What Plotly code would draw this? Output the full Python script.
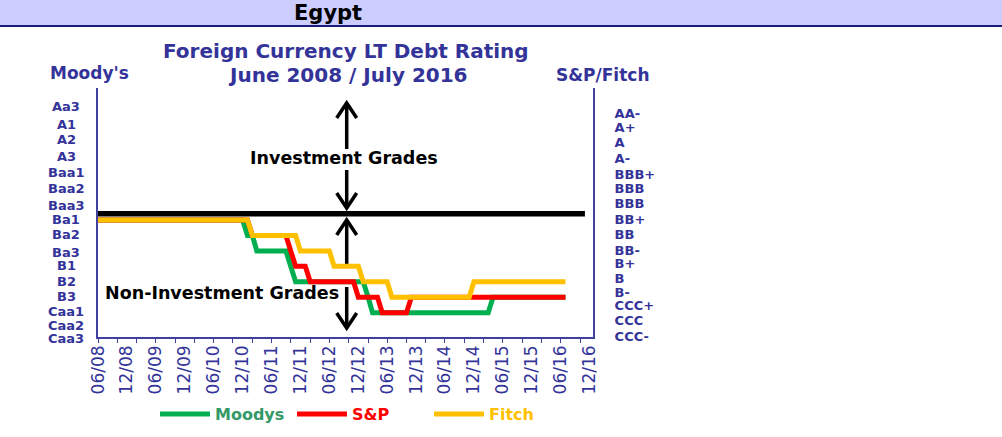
import pandas as pd
import plotly.graph_objects as go

# ---------------- data ----------------
country = "Egypt"
chart_title = "Foreign Currency LT Debt Rating"
chart_subtitle = "June 2008 / July 2016"
left_axis_title = "Moody's"
right_axis_title = "S&P/Fitch"
upper_zone_label = "Investment Grades"
lower_zone_label = "Non-Investment Grades"

# notch scales (lowest first); level = position + 1
moodys_scale = ["Caa3", "Caa2", "Caa1", "B3", "B2", "B1", "Ba3", "Ba2", "Ba1",
                "Baa3", "Baa2", "Baa1", "A3", "A2", "A1", "Aa3"]
sp_scale = ["CCC-", "CCC", "CCC+", "B-", "B", "B+", "BB-", "BB", "BB+",
            "BBB-", "BBB", "BBB+", "A-", "A", "A+", "AA-"]

# rating changes (month of change, new rating)
moodys_change_months = ["2008-06", "2011-01", "2011-03", "2011-10", "2011-11",
                        "2013-02", "2013-03", "2015-04"]
moodys_change_ratings = ["Ba1", "Ba2", "Ba3", "B1", "B2", "B3", "Caa1", "B3"]

sp_change_months = ["2008-06", "2011-02", "2011-10", "2011-11", "2012-02",
                    "2012-12", "2013-05", "2013-11"]
sp_change_ratings = ["BB+", "BB", "BB-", "B+", "B", "B-", "CCC+", "B-"]

fitch_change_months = ["2008-06", "2011-02", "2011-12", "2012-07", "2013-01",
                       "2013-07", "2014-12"]
fitch_change_ratings = ["BB+", "BB", "BB-", "B+", "B", "B-", "B"]

last_month = "2016-07"

# investment-grade boundary line
threshold_level = 9.4
threshold_dates = ["2008-06-01", "2016-11-01"]

# axis tick labels
left_labels = ["Aa3", "A1", "A2", "A3", "Baa1", "Baa2", "Baa3", "Ba1", "Ba2",
               "Ba3", "B1", "B2", "B3", "Caa1", "Caa2", "Caa3"]
left_label_levels = [16.33, 15.21, 14.18, 13.14, 12.09, 11.05, 9.97, 9.06, 8.03,
                     6.91, 6.04, 5.05, 4.04, 3.06, 2.20, 1.34]
right_labels = ["AA-", "A+", "A", "A-", "BBB+", "BBB", "BBB", "BB+", "BB",
                "BB-", "B+", "B", "B-", "CCC+", "CCC", "CCC-"]
right_label_levels = [15.91, 14.97, 14.00, 12.99, 11.96, 11.05, 10.08, 9.06, 8.07,
                      7.06, 6.20, 5.23, 4.32, 3.45, 2.48, 1.46]
x_labels = ["06/08", "12/08", "06/09", "12/09", "06/10", "12/10", "06/11", "12/11",
            "06/12", "12/12", "06/13", "12/13", "06/14", "12/14", "06/15", "12/15",
            "06/16", "12/16"]

series_names = ["Moodys", "S&P", "Fitch"]
series_colors = ["#00B050", "#FF0000", "#FFC000"]
legend_text_colors = ["#339966", "#FF0000", "#FFC000"]

# ---------------- build monthly series ----------------
months = pd.date_range(moodys_change_months[0] + "-01", last_month + "-01", freq="MS")


def monthly_levels(change_months, change_ratings, scale):
    s = pd.Series(index=pd.to_datetime([m + "-01" for m in change_months]),
                  data=[scale.index(r) + 1 for r in change_ratings], dtype=float)
    return s.reindex(months, method="ffill")


moodys_series = monthly_levels(moodys_change_months, moodys_change_ratings, moodys_scale)
sp_series = monthly_levels(sp_change_months, sp_change_ratings, sp_scale)
fitch_series = monthly_levels(fitch_change_months, fitch_change_ratings, sp_scale)
all_series = [moodys_series, sp_series, fitch_series]

x_tick_dates = [pd.to_datetime(l, format="%m/%y") for l in x_labels]
minor_tick_dates = pd.date_range("2008-06-01", "2016-12-01", freq="4MS")

# ---------------- layout geometry (pixels) ----------------
W, H = 1002, 437
PL, PR, PT, PB = 98, 593, 88, 337
FONT = "DejaVu Sans"
BLUE = "#333399"
AXIS_BLUE = "#4040A0"
y_range = [1.427, 17.544]
x_range = ["2008-06-01", "2016-12-22"]


def fx(px):
    return (px - PL) / (PR - PL)


def fy(py):
    return (PB - py) / (PB - PT)


def level_to_paper(lev):
    return (lev - y_range[0]) / (y_range[1] - y_range[0])


fig = go.Figure()

for name, s, col, tcol in zip(series_names, all_series, series_colors, legend_text_colors):
    fig.add_trace(go.Scatter(
        x=s.index, y=s.values, mode="lines",
        name=f"<span style='color:{tcol}'><b>{name}</b></span>",
        line=dict(color=col, width=5),
        hoverinfo="skip",
    ))

fig.add_trace(go.Scatter(
    x=pd.to_datetime(threshold_dates), y=[threshold_level] * len(threshold_dates),
    mode="lines", line=dict(color="black", width=5.5), showlegend=False,
    xaxis="x2", yaxis="y2", hoverinfo="skip",
))

shapes = []
# header band
shapes.append(dict(type="rect", xref="paper", yref="paper", x0=fx(0), x1=fx(W),
                   y0=fy(0), y1=fy(25.5), fillcolor="#CCCCFF", line=dict(width=0), layer="below"))
shapes.append(dict(type="line", xref="paper", yref="paper", x0=fx(0), x1=fx(W),
                   y0=fy(26), y1=fy(26), line=dict(color="#1A1A7A", width=2)))


def arrow(xc, ytop, ybot, hw=10, hh=15):
    p = []
    p.append(f"M{fx(xc)},{fy(ytop)} L{fx(xc)},{fy(ybot)}")
    p.append(f"M{fx(xc-hw)},{fy(ytop+hh)} L{fx(xc)},{fy(ytop)} L{fx(xc+hw)},{fy(ytop+hh)}")
    p.append(f"M{fx(xc-hw)},{fy(ybot-hh)} L{fx(xc)},{fy(ybot)} L{fx(xc+hw)},{fy(ybot-hh)}")
    return [dict(type="path", xref="paper", yref="paper", path=q,
                 line=dict(color="black", width=3.5), layer="below") for q in p]


shapes += arrow(346.7, 103, 208)
shapes += arrow(346.7, 220, 328)
# white text boxes (behind lines)
shapes.append(dict(type="rect", xref="paper", yref="paper", x0=fx(245), x1=fx(442),
                   y0=fy(170), y1=fy(149), fillcolor="white", line=dict(width=0), layer="below"))
shapes.append(dict(type="rect", xref="paper", yref="paper", x0=fx(100), x1=fx(352),
                   y0=fy(287), y1=fy(267), fillcolor="white", line=dict(width=0), layer="below"))

annotations = []


def text(t, x, y, size, color, bold=True):
    annotations.append(dict(text=f"<b>{t}</b>" if bold else t, x=fx(x), y=fy(y),
                            xref="paper", yref="paper", showarrow=False,
                            xanchor="center", yanchor="middle",
                            font=dict(family=FONT, size=size, color=color)))


text(country, 327.5, 13, 21, "black")
text(chart_title, 346, 51, 20, BLUE)
text(chart_subtitle, 347.5, 75, 20, BLUE)
text(left_axis_title, 89, 73, 17, BLUE)
text(right_axis_title, 602.5, 75, 17, BLUE)
text(upper_zone_label, 344, 158, 17.5, "black")
text(lower_zone_label, 221.5, 293, 17.5, "black")

for lab, lev in zip(left_labels, left_label_levels):
    annotations.append(dict(text=f"<b>{lab}</b>", x=fx(66), y=level_to_paper(lev),
                            xref="paper", yref="paper",
                            showarrow=False, xanchor="center", yanchor="middle",
                            font=dict(family=FONT, size=13, color=BLUE)))

fig.update_layout(
    width=W, height=H,
    margin=dict(l=PL, r=W - PR, t=PT, b=H - PB, pad=0, autoexpand=False),
    paper_bgcolor="white", plot_bgcolor="white",
    font=dict(family=FONT, color=BLUE),
    showlegend=True,
    legend=dict(orientation="h", xref="container", yref="container",
                x=155 / W, y=(H - 414) / H, xanchor="left", yanchor="middle",
                font=dict(family=FONT, size=16), bgcolor="rgba(0,0,0,0)",
                itemwidth=50, entrywidth=72),
    xaxis=dict(type="date", range=x_range, showgrid=False, zeroline=False,
               tickmode="array", tickvals=x_tick_dates, ticktext=x_labels,
               tickangle=-90, ticks="", showline=False, automargin=False,
               tickfont=dict(family=FONT, size=17, color=BLUE), ticklabelstandoff=4),
    xaxis2=dict(type="date", range=x_range, overlaying="x", anchor="y2", side="bottom",
                showgrid=False, zeroline=False, showticklabels=False, automargin=False,
                tickmode="array", tickvals=minor_tick_dates, ticks="outside", ticklen=4,
                tickwidth=1.2, tickcolor=AXIS_BLUE,
                showline=True, linecolor=AXIS_BLUE, linewidth=1.5),
    yaxis=dict(range=y_range, showgrid=False, zeroline=False, showticklabels=False,
               ticks="", showline=True, linecolor=AXIS_BLUE, linewidth=1.5, automargin=False),
    yaxis2=dict(range=y_range, overlaying="y", side="right", anchor="x2",
                showgrid=False, zeroline=False, tickmode="array", automargin=False,
                tickvals=right_label_levels, ticktext=[f"<b>{t}</b>" for t in right_labels],
                ticks="", showline=True, linecolor=AXIS_BLUE, linewidth=2,
                tickfont=dict(family=FONT, size=13, color=BLUE), ticklabelstandoff=17),
    shapes=shapes,
    annotations=annotations,
)

fig.write_html("out.html", config={"displayModeBar": False},
               post_script="document.body.style.margin='0';")
